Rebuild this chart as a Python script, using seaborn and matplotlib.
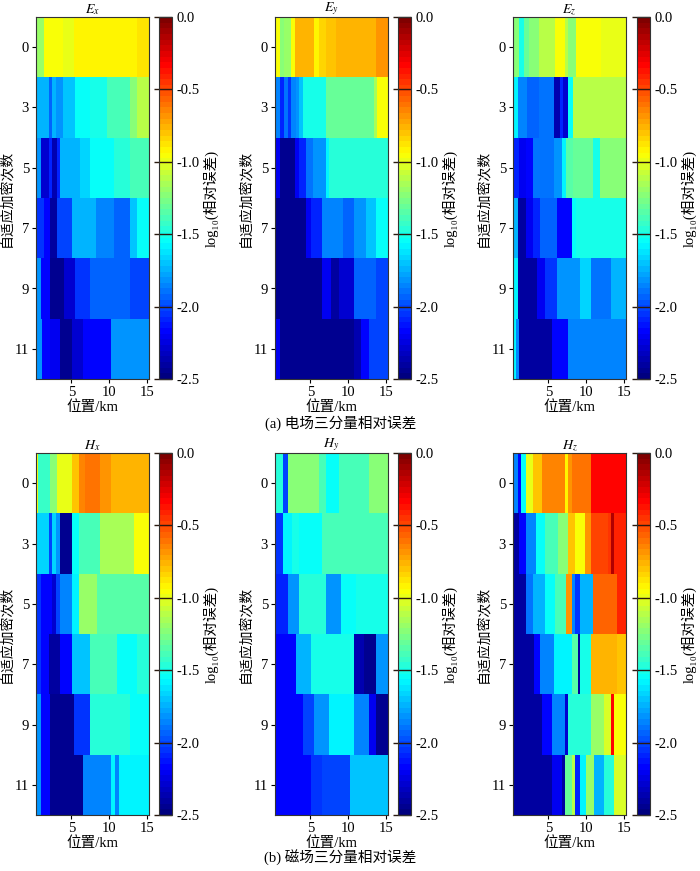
import numpy as np
import pandas as pd
import matplotlib
matplotlib.use('Agg')
import matplotlib.pyplot as plt
from matplotlib.colors import LinearSegmentedColormap
import seaborn as sns

plt.rcParams['font.family'] = ['Liberation Serif', 'DejaVu Serif', 'Noto Sans CJK SC']
plt.rcParams['mathtext.fontset'] = 'stix'
plt.rcParams['axes.unicode_minus'] = False

# cell grid along the profile (km)
x_left = 0.3
x_right = 15.3
dx = 0.1

row_labels = ['0', '3', '5', '7', '9', '11']
x_ticks = [5, 10, 15]
cbar_ticks = [0.0, -0.5, -1.0, -1.5, -2.0, -2.5]

# every row: break points in km and log10 error of each piece
ex_breaks = [[1.3, 3.9, 5.3, 9.7, 11.2, 13.7],
             [1.95, 2.4, 3.0, 3.9, 5.5, 7.5, 9.7, 12.8, 13.7],
             [0.85, 1.95, 2.4, 3.05, 3.5, 6.15, 7.5, 10.6, 12.8],
             [1.3, 2.2, 3.05, 5.05, 8.15, 10.6, 12.8, 13.7],
             [0.85, 2.2, 3.95, 5.5, 7.5, 12.8],
             [1.05, 2.2, 3.5, 5.05, 6.6, 10.15]]
ex_vals = [[-1.18, -0.94, -1.0, -0.93, -0.9, -0.92, -0.86],
           [-1.75, -1.95, -1.75, -1.8, -1.68, -1.55, -1.5, -1.38, -1.25, -1.1],
           [-1.8, -2.3, -2.1, -2.35, -2.1, -1.72, -1.65, -1.55, -1.45, -1.4],
           [-2.05, -2.15, -2.4, -2.0, -1.75, -1.85, -1.92, -1.7, -1.55],
           [-1.8, -2.15, -2.45, -2.3, -2.05, -1.95, -2.02],
           [-1.8, -2.15, -2.22, -2.45, -2.3, -2.15, -1.8]]

ey_breaks = [[0.85, 1.5, 2.4, 2.95, 5.5, 6.15, 7.05, 8.35, 13.7],
             [0.85, 1.5, 1.95, 2.4, 3.05, 3.5, 3.95, 7.05, 12.8, 13.45, 13.9],
             [0.85, 2.85, 3.5, 4.4, 5.3, 7.05, 7.5],
             [4.4, 5.05, 6.6, 9.25, 10.8, 12.35, 13.7],
             [6.6, 7.7, 8.8, 10.8, 13.7],
             [0.85, 10.8, 11.7, 12.8]]
ey_vals = [[-0.95, -1.25, -1.2, -0.95, -0.75, -0.92, -0.85, -0.8, -0.75, -0.68],
           [-1.85, -2.1, -1.9, -2.05, -1.85, -1.8, -1.7, -1.52, -1.32, -1.3, -1.15, -0.95],
           [-2.2, -2.45, -2.2, -2.1, -1.9, -1.8, -1.6, -1.45],
           [-2.45, -2.2, -2.1, -1.85, -1.95, -1.8, -1.7, -1.55],
           [-2.45, -2.2, -2.4, -2.3, -1.92, -2.0],
           [-2.2, -2.45, -2.35, -2.15, -2.0]]

ez_breaks = [[1.1, 1.75, 2.4, 3.7, 5.85, 7.15, 7.6, 8.7, 12.0],
             [0.85, 2.15, 3.7, 5.65, 6.5, 6.95, 7.6, 8.25],
             [1.1, 1.95, 2.85, 5.65, 6.75, 7.4, 8.25, 10.85, 11.75],
             [0.85, 1.95, 2.85, 3.9, 6.1, 8.05, 8.7],
             [0.85, 3.5, 4.55, 6.1, 9.15, 10.65, 13.25],
             [0.65, 1.1, 5.45, 7.6]]
ez_vals = [[-1.25, -1.5, -1.3, -1.25, -1.1, -0.95, -1.1, -1.25, -0.97, -1.0],
           [-1.6, -1.85, -1.95, -1.9, -2.35, -2.1, -2.3, -1.55, -1.1],
           [-2.1, -2.2, -2.15, -1.9, -1.8, -1.6, -1.35, -1.3, -1.5, -1.25],
           [-1.75, -2.4, -2.2, -2.1, -1.92, -2.15, -1.55, -1.5],
           [-1.6, -2.4, -2.2, -2.05, -1.8, -1.65, -1.9, -1.75],
           [-1.6, -1.85, -2.4, -2.15, -1.85]]

hx_breaks = [[0.6, 2.2, 3.05, 5.05, 5.95, 6.8, 8.8, 10.15],
             [1.95, 2.4, 2.85, 3.5, 5.05, 5.95, 8.8, 13.25],
             [0.85, 2.4, 2.85, 3.5, 5.05, 5.95, 8.35],
             [0.85, 1.95, 3.5, 5.05, 7.5, 11.0, 13.7],
             [0.85, 2.2, 5.3, 7.5, 12.8],
             [0.85, 2.2, 6.6, 10.15, 10.8, 11.25]]
hx_vals = [[-0.95, -1.42, -1.25, -0.98, -0.82, -0.65, -0.6, -0.7, -0.75],
           [-1.65, -2.0, -1.65, -1.8, -2.45, -1.55, -1.4, -1.15, -0.95],
           [-2.05, -2.15, -2.3, -2.0, -1.85, -1.6, -1.2, -1.35],
           [-2.05, -2.15, -2.4, -2.15, -1.7, -1.4, -1.55, -1.45],
           [-1.8, -2.15, -2.45, -2.05, -1.45, -1.55],
           [-1.8, -2.15, -2.45, -1.85, -1.6, -1.85, -1.6]]

hy_breaks = [[1.3, 1.95, 6.15, 7.05, 8.8, 12.8],
             [1.3, 2.6, 3.5, 6.6],
             [1.95, 3.5, 7.05, 9.05, 11.0],
             [3.05, 5.05, 10.8, 12.1, 13.7],
             [3.95, 5.5, 7.5, 10.8, 12.8, 13.7],
             [5.05, 6.6, 10.15]]
hy_vals = [[-1.45, -2.0, -1.25, -1.4, -1.55, -1.4, -1.25],
           [-2.05, -1.6, -1.5, -1.55, -1.4],
           [-2.1, -1.8, -1.45, -1.8, -1.55, -1.5],
           [-2.15, -1.75, -1.5, -2.35, -2.45, -1.8],
           [-2.15, -2.0, -1.8, -1.6, -1.85, -2.2, -2.45],
           [-2.15, -2.05, -2.0, -1.7]]

hz_breaks = [[0.85, 1.3, 1.95, 2.85, 4.15, 7.15, 7.6, 8.05, 10.65],
             [1.1, 1.95, 3.25, 4.55, 6.3, 7.6, 8.5, 9.8, 10.65, 12.85, 13.3, 13.7],
             [1.95, 2.85, 4.55, 5.85, 7.4, 8.05, 8.5, 9.15, 10.85, 14.1],
             [3.05, 3.9, 5.65, 8.05, 8.9, 9.15, 10.65, 14.1],
             [4.15, 5.45, 7.15, 7.6, 10.65, 12.4, 13.25, 13.7],
             [5.45, 6.75, 7.15, 8.05, 8.5, 9.15, 10.0, 11.1, 12.4, 13.7]]
hz_vals = [[-1.85, -2.15, -1.55, -1.0, -0.8, -0.65, -0.9, -0.7, -0.6, -0.35],
           [-2.4, -2.15, -1.85, -1.55, -1.4, -1.25, -0.8, -0.95, -0.7, -0.5, -0.45, -0.15, -0.4],
           [-2.4, -1.9, -1.75, -1.55, -1.4, -0.7, -1.85, -2.05, -1.75, -0.55, -0.4],
           [-2.4, -2.15, -1.85, -1.6, -1.35, -2.4, -1.5, -0.75, -0.82],
           [-2.4, -2.15, -1.85, -2.3, -1.45, -1.2, -1.05, -0.35, -0.95],
           [-2.4, -2.2, -2.4, -1.3, -1.1, -2.1, -1.6, -1.2, -1.75, -1.45, -1.05]]

panels = [('$E_x$', ex_breaks, ex_vals), ('$E_y$', ey_breaks, ey_vals),
          ('$E_z$', ez_breaks, ez_vals), ('$H_x$', hx_breaks, hx_vals),
          ('$H_y$', hy_breaks, hy_vals), ('$H_z$', hz_breaks, hz_vals)]

centers = np.arange(x_left + dx / 2, x_right, dx)


def build_grid(breaks, vals):
    rows = []
    for b, v in zip(breaks, vals):
        idx = np.searchsorted(b, centers, side='right')
        rows.append(np.array(v)[idx])
    return pd.DataFrame(rows, index=row_labels, columns=np.round(centers, 2))


# MATLAB style jet, 64 levels
cmap = LinearSegmentedColormap.from_list(
    'mjet', [(0.0, (0, 0, 0.5)), (0.125, (0, 0, 1)), (0.375, (0, 1, 1)),
             (0.625, (1, 1, 0)), (0.875, (1, 0, 0)), (1.0, (0.5, 0, 0))], N=64)

fig = plt.figure(figsize=(7.0, 8.71), dpi=100)
W, H = 700.0, 871.0
col_left = [36, 275, 513]
cbar_left = [159, 398, 637]
row_top = [17, 453]
ax_w, ax_h, cb_w = 113, 362, 13

for i, (title, brk, val) in enumerate(panels):
    r, c = divmod(i, 3)
    ax = fig.add_axes([col_left[c] / W, 1 - (row_top[r] + ax_h) / H, ax_w / W, ax_h / H])
    cax = fig.add_axes([cbar_left[c] / W, 1 - (row_top[r] + ax_h) / H, cb_w / W, ax_h / H])
    grid = build_grid(brk, val)
    sns.heatmap(grid, ax=ax, cbar_ax=cax, cmap=cmap, vmin=-2.5, vmax=0.0,
                xticklabels=False, yticklabels=False)
    ax.set_xticks([(t - x_left) / dx for t in x_ticks])
    ax.set_xticklabels([str(t) for t in x_ticks], rotation=0)
    ax.set_yticks(np.arange(len(row_labels)) + 0.5)
    ax.set_yticklabels(row_labels, rotation=0)
    ax.tick_params(direction='out', length=3, width=0.8, labelsize=10.5, pad=2)
    for sp in ax.spines.values():
        sp.set_visible(True)
        sp.set_linewidth(0.8)
        sp.set_color('#333333')
    ax.set_title(title, fontsize=10, pad=0)
    ax.set_xlabel('位置/km', fontsize=10.5, labelpad=1)
    ax.set_ylabel('自适应加密次数', fontsize=10, labelpad=1)

    cb = ax.collections[0].colorbar
    cb.set_ticks(cbar_ticks)
    cb.set_ticklabels(['%.1f' % t for t in cbar_ticks])
    cb.outline.set_linewidth(0.8)
    cb.outline.set_edgecolor('#333333')
    cb.ax.tick_params(direction='in', length=cb_w, width=1.0, color='#2a1a10',
                      labelsize=10.5, pad=3)
    cb.set_label('log₁₀(相对误差)', fontsize=10.5, labelpad=3)

fig.text(0.486, 1 - 423 / H, '(a) 电场三分量相对误差', ha='center', va='center', fontsize=10.5)
fig.text(0.486, 1 - 858 / H, '(b) 磁场三分量相对误差', ha='center', va='center', fontsize=10.5)

fig.savefig('out.png', dpi=100)
